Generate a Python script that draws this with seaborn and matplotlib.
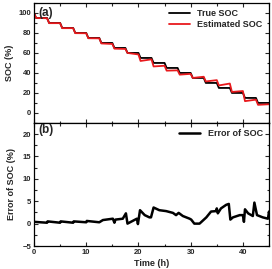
import matplotlib
matplotlib.use("Agg")
import matplotlib.pyplot as plt
import seaborn as sns
import pandas as pd
from matplotlib.ticker import MultipleLocator

# True SOC staircase vertices (h, %)
t_soc = [0, 0.4, 2.5, 2.9, 5.0, 5.4, 7.5, 7.9, 10.0, 10.4, 12.5, 12.9, 15.0, 15.4,
         17.5, 17.9, 20.0, 20.4, 22.5, 22.9, 25.0, 25.4, 27.5, 27.9, 30.0, 30.4,
         32.5, 32.9, 35.0, 35.4, 37.5, 37.9, 40.0, 40.4, 42.5, 42.9, 45.0]
soc_true = [100, 95, 95, 90, 90, 85, 85, 80, 80, 75, 75, 70, 70, 65,
            65, 60, 60, 55, 55, 50, 50, 45, 45, 40, 40, 35,
            35, 30, 30, 25, 25, 20, 20, 15, 15, 10, 10]
soc_est = [100, 95, 94.7, 89.8, 89.8, 84.8, 84.8, 79.8, 79.7, 74.7, 74.6, 69.5, 69.0, 64.3,
           64.0, 60.0, 58.5, 52.0, 53.6, 46.5, 47.2, 42.3, 42.6, 38.3, 39.1, 35.0,
           36.2, 31.5, 32.8, 27.5, 29.4, 21.0, 21.9, 11.8, 13.3, 8.1, 8.7]

# Error of SOC (h, %)
t_err = [0, 2.5, 2.6, 5.0, 5.1, 7.5, 7.6, 10.0, 10.1, 12.5, 13.2, 15.1, 15.4, 15.6,
         17.0, 17.6, 17.9, 19.7, 19.9, 20.3, 21.2, 22.1, 22.4, 22.9, 24.0, 25.3,
         26.6, 27.2, 27.7, 28.5, 29.8, 30.1, 30.7, 31.7, 33.0, 33.9, 34.9, 35.0,
         35.2, 35.8, 36.8, 37.3, 37.6, 38.1, 39.4, 40.0, 40.2, 40.4, 41.0, 41.9,
         42.2, 42.7, 43.8, 44.8, 45.0]
err = [0.4, 0.2, 0.5, 0.2, 0.5, 0.2, 0.5, 0.3, 0.6, 0.3, 0.8, 1.1, 0.2, 0.9,
       1.1, 2.3, 0.0, 1.1, -0.1, 3.0, 1.9, 1.4, 1.4, 3.6, 3.0, 2.8,
       2.4, 1.9, 2.4, 1.7, 1.1, 0.9, 0.0, 0.0, 1.4, 2.7, 2.8, 3.4,
       2.3, 3.4, 4.2, 4.4, 0.9, 1.4, 1.9, 1.9, 0.4, 3.2, 2.3, 1.7,
       4.7, 1.9, 1.4, 1.1, 2.7]

soc_df = pd.DataFrame({"t": t_soc, "true": soc_true, "est": soc_est})
err_df = pd.DataFrame({"t": t_err, "err": err})

sns.set_theme(style="ticks")
plt.rcParams["font.family"] = ["Liberation Sans", "DejaVu Sans"]
plt.rcParams["font.weight"] = "bold"
plt.rcParams["axes.labelweight"] = "bold"

fig = plt.figure(figsize=(2.72, 2.69), dpi=100)
ax1 = fig.add_axes([0.125, 0.543, 0.864, 0.446])
ax2 = fig.add_axes([0.125, 0.0855, 0.864, 0.4575], sharex=ax1)

sns.lineplot(data=soc_df, x="t", y="true", ax=ax1, color="black", lw=1.3,
             estimator=None, label="True SOC")
sns.lineplot(data=soc_df, x="t", y="est", ax=ax1, color="#e8191c", lw=1.3,
             estimator=None, label="Estimated SOC")
sns.lineplot(data=err_df, x="t", y="err", ax=ax2, color="black", lw=1.8,
             estimator=None, label="Error of SOC")

ax1.set_xlim(0, 45)
ax1.set_ylim(-10, 110)
ax2.set_ylim(-5, 22.5)
ax1.xaxis.set_major_locator(MultipleLocator(10))
ax1.xaxis.set_minor_locator(MultipleLocator(5))
ax1.yaxis.set_major_locator(MultipleLocator(20))
ax1.yaxis.set_minor_locator(MultipleLocator(10))
ax2.yaxis.set_major_locator(MultipleLocator(5))
ax2.yaxis.set_minor_locator(MultipleLocator(2.5))

for ax in (ax1, ax2):
    ax.tick_params(which="both", direction="in", top=True, right=True,
                   labelsize=5.5, width=0.8, pad=2)
    ax.tick_params(which="major", length=3)
    ax.tick_params(which="minor", length=1.8)
    for s in ax.spines.values():
        s.set_linewidth(0.9)
        s.set_color("black")
    for lab in ax.get_xticklabels() + ax.get_yticklabels():
        lab.set_fontweight("bold")
    ax.legend(loc="upper right", frameon=False, handlelength=2.4,
              borderaxespad=0.3, labelspacing=0.2, prop={"weight": "bold", "size": 6.5})

ax1.tick_params(labelbottom=False)
ax1.set_xlabel("")
ax1.set_ylabel("SOC (%)", fontsize=6.5, fontweight="bold", labelpad=3)
ax2.set_ylabel("Error of SOC (%)", fontsize=6.5, fontweight="bold", labelpad=5)
ax2.set_xlabel("Time (h)", fontsize=6.5, fontweight="bold", labelpad=2)

ax1.text(0.02, 0.97, "(a)", transform=ax1.transAxes, ha="left", va="top",
         fontsize=8.5, fontweight="bold")
ax2.text(0.02, 0.99, "(b)", transform=ax2.transAxes, ha="left", va="top",
         fontsize=8.5, fontweight="bold")

fig.savefig("out.png", dpi=100)
